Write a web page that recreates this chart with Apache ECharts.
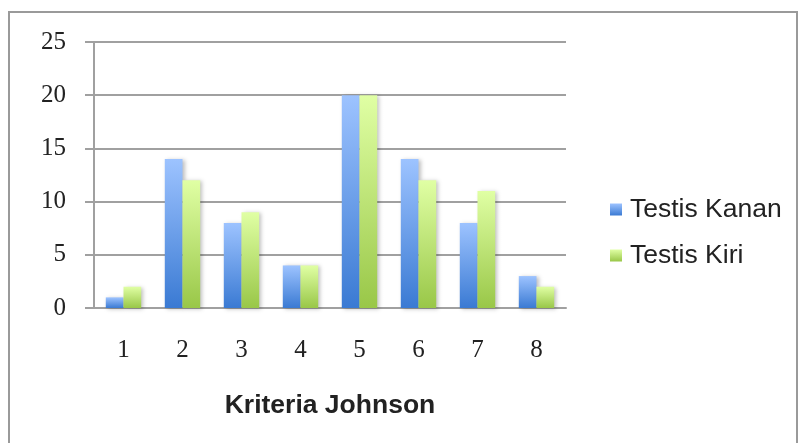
<!DOCTYPE html>
<html>
<head>
<meta charset="utf-8">
<script src="https://cdn.jsdelivr.net/npm/echarts@6/dist/echarts.min.js"></script>
<style>
  html, body { margin: 0; padding: 0; background: #fff; }
  #chart { width: 800px; height: 443px; }
</style>
</head>
<body>
<div id="chart"></div>
<script>
// Kriteria Johnson categories and counts per testis side
const categories = ['1', '2', '3', '4', '5', '6', '7', '8'];
const testisKanan = [1, 14, 8, 4, 20, 14, 8, 3];
const testisKiri = [2, 12, 9, 4, 20, 12, 11, 2];
const yTicks = { min: 0, max: 25, interval: 5 };

const chart = echarts.init(document.getElementById('chart'), null, { renderer: 'canvas' });

function grad(top, bottom) {
  return new echarts.graphic.LinearGradient(0, 0, 0, 1, [
    { offset: 0, color: top },
    { offset: 1, color: bottom }
  ]);
}

const barShadow = {
  shadowBlur: 4,
  shadowOffsetX: 2,
  shadowOffsetY: 1,
  shadowColor: 'rgba(0,0,0,0.25)'
};

chart.setOption({
  animation: false,
  backgroundColor: '#fff',
  graphic: [{
    type: 'rect',
    shape: { x: 9, y: 12, width: 788, height: 440 },
    style: { fill: 'none', stroke: '#9a9a9a', lineWidth: 2 },
    silent: true
  }],
  legend: {
    orient: 'vertical',
    left: 605,
    top: 191,
    itemWidth: 12,
    itemHeight: 12,
    itemGap: 19,
    icon: 'rect',
    textStyle: { fontFamily: 'Liberation Sans', fontSize: 26.5, color: '#222', padding: [0, 0, 0, 3] },
    data: ['Testis Kanan', 'Testis Kiri']
  },
  grid: { left: 94, right: 234, top: 42, bottom: 135, containLabel: false },
  xAxis: {
    type: 'category',
    data: categories,
    name: 'Kriteria Johnson',
    nameLocation: 'middle',
    nameGap: 84,
    nameTextStyle: { fontFamily: 'Liberation Sans', fontWeight: 'bold', fontSize: 26.5, color: '#222' },
    axisLine: { show: true, lineStyle: { color: '#a0a0a0', width: 2 } },
    axisTick: { show: false },
    axisLabel: { fontFamily: 'Liberation Serif', fontSize: 25, color: '#222', margin: 30 }
  },
  yAxis: {
    type: 'value',
    min: yTicks.min,
    max: yTicks.max,
    interval: yTicks.interval,
    axisLine: { show: true, lineStyle: { color: '#a0a0a0', width: 2 } },
    axisTick: { show: true, length: 9, lineStyle: { color: '#a0a0a0', width: 2 } },
    splitLine: { show: true, lineStyle: { color: '#a0a0a0', width: 2 } },
    axisLabel: { fontFamily: 'Liberation Serif', fontSize: 25, color: '#222', margin: 28 }
  },
  series: [
    {
      name: 'Testis Kanan',
      type: 'bar',
      data: testisKanan,
      barWidth: '30%',
      barGap: '0%',
      itemStyle: Object.assign({ color: grad('#9dc3ff', '#3a7ad3') }, barShadow)
    },
    {
      name: 'Testis Kiri',
      type: 'bar',
      data: testisKiri,
      barWidth: '30%',
      barGap: '0%',
      itemStyle: Object.assign({ color: grad('#e0ffa4', '#99c748') }, barShadow)
    }
  ]
});
</script>
</body>
</html>
